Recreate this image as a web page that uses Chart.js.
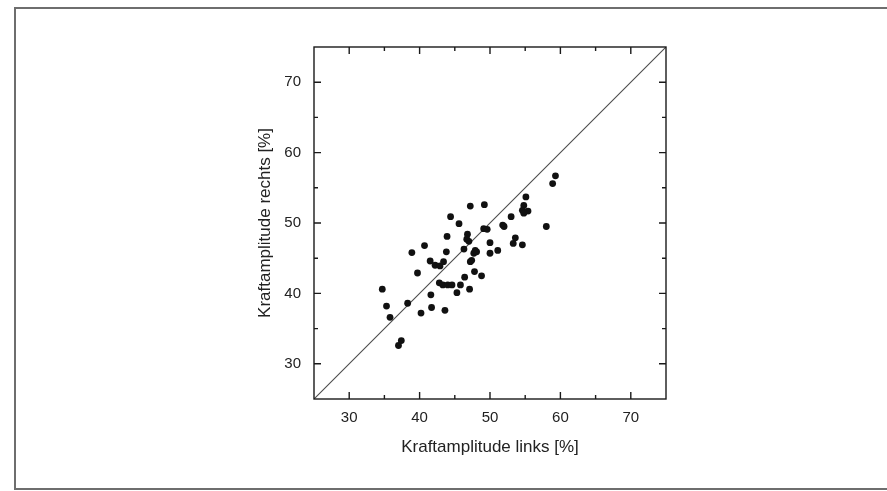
<!DOCTYPE html>
<html>
<head>
<meta charset="utf-8">
<script src="https://cdn.jsdelivr.net/npm/chart.js@4"></script>
<style>
  html, body { margin: 0; padding: 0; background: #fff; }
  #rahmen { position: absolute; left: 14px; top: 7px; width: 900px; height: 479px;
            border: 2px solid #6e6e6e; border-right: none; }
  #wrap { position: absolute; left: 0; top: 0; width: 887px; height: 491px; }
</style>
</head>
<body>
<div id="rahmen"></div>
<div id="wrap"><canvas id="grafik"></canvas></div>
<script>
// ---------- DATEN ----------
// Kraftamplitude links / rechts [%]
const links = [
  34.7, 35.3, 35.8, 37.0, 37.4, 38.3, 38.9, 39.7, 40.2, 40.7,
  41.6, 41.7, 41.5, 42.2, 42.9, 43.4, 43.8, 43.9, 44.4, 42.8,
  43.3, 44.0, 44.6, 43.6, 45.6, 45.3, 45.8, 46.4, 46.3, 46.8,
  46.7, 47.0, 47.2, 47.1, 47.2, 47.4, 47.7, 47.9, 48.1, 47.8,
  48.8, 49.2, 49.1, 49.6, 50.0, 50.0, 51.1, 51.8, 52.0, 53.0,
  53.6, 53.3, 54.6, 55.1, 54.8, 54.6, 55.4, 54.8, 58.0, 58.9,
  59.3
];
const rechts = [
  40.6, 38.2, 36.6, 32.6, 33.3, 38.6, 45.8, 42.9, 37.2, 46.8,
  39.8, 38.0, 44.6, 44.0, 43.9, 44.5, 45.9, 48.1, 50.9, 41.5,
  41.2, 41.2, 41.2, 37.6, 49.9, 40.1, 41.2, 42.3, 46.3, 48.4,
  47.7, 47.4, 52.4, 40.6, 44.5, 44.7, 45.7, 46.1, 45.9, 43.1,
  42.5, 52.6, 49.2, 49.1, 47.2, 45.7, 46.1, 49.7, 49.5, 50.9,
  47.9, 47.1, 46.9, 53.7, 52.5, 51.8, 51.7, 51.4, 49.5, 55.6,
  56.7
];
// Winkelhalbierende (links = rechts)
const diagonale = [25, 75];

// Achsen
const achseMin = 25;
const achseMax = 75;
const ticksGross = [30, 40, 50, 60, 70];
const ticksKlein = [30, 35, 40, 45, 50, 55, 60, 65, 70];

const titelX = "Kraftamplitude links [%]";
const titelY = "Kraftamplitude rechts [%]";

// ---------- RAHMEN + INNENTICKS ----------
const rahmenPlugin = {
  id: "rahmen",
  afterDatasetsDraw(chart) {
    const { ctx, chartArea: a, scales: { x, y } } = chart;
    ctx.save();
    ctx.strokeStyle = "#1a1a1a";
    ctx.lineWidth = 1.4;
    ctx.strokeRect(a.left, a.top, a.right - a.left, a.bottom - a.top);
    ctx.beginPath();
    ticksKlein.forEach(v => {
      const len = ticksGross.includes(v) ? 7 : 4;
      const px = x.getPixelForValue(v);
      const py = y.getPixelForValue(v);
      ctx.moveTo(px, a.bottom); ctx.lineTo(px, a.bottom - len);
      ctx.moveTo(px, a.top);    ctx.lineTo(px, a.top + len);
      ctx.moveTo(a.left, py);   ctx.lineTo(a.left + len, py);
      ctx.moveTo(a.right, py);  ctx.lineTo(a.right - len, py);
    });
    ctx.stroke();
    ctx.restore();
  }
};

const schrift = "'Liberation Sans', Arial, sans-serif";

new Chart(document.getElementById("grafik"), {
  type: "scatter",
  data: {
    datasets: [
      {
        label: "Messwerte",
        data: links.map((v, i) => ({ x: v, y: rechts[i] })),
        backgroundColor: "#111",
        borderColor: "#111",
        pointRadius: 3.4,
        pointBorderWidth: 0,
        order: 0
      },
      {
        label: "Diagonale",
        data: diagonale.map(v => ({ x: v, y: v })),
        showLine: true,
        borderColor: "#4a4a4a",
        borderWidth: 1.1,
        pointRadius: 0,
        order: 1
      }
    ]
  },
  options: {
    responsive: true,
    maintainAspectRatio: false,
    animation: false,
    layout: { padding: { left: 244, top: 47, right: 221, bottom: 0 } },
    plugins: { legend: { display: false }, tooltip: { enabled: false } },
    scales: {
      x: {
        type: "linear",
        min: achseMin, max: achseMax,
        grid: { display: false },
        border: { display: false },
        afterBuildTicks: s => { s.ticks = ticksGross.map(v => ({ value: v })); },
        afterFit: s => { s.height = 92; },
        ticks: { color: "#222", padding: 2, font: { family: schrift, size: 15 } },
        title: { display: true, text: titelX, color: "#222",
                 padding: { top: 0, bottom: 33 }, font: { family: schrift, size: 17 } }
      },
      y: {
        type: "linear",
        min: achseMin, max: achseMax,
        grid: { display: false },
        border: { display: false },
        afterBuildTicks: s => { s.ticks = ticksGross.map(v => ({ value: v })); },
        afterFit: s => { s.width = 70; },
        ticks: { color: "#222", padding: 5, font: { family: schrift, size: 15 } },
        title: { display: true, text: titelY, color: "#222",
                 padding: { top: 11, bottom: 0 }, font: { family: schrift, size: 17 } }
      }
    }
  },
  plugins: [rahmenPlugin]
});
</script>
</body>
</html>
